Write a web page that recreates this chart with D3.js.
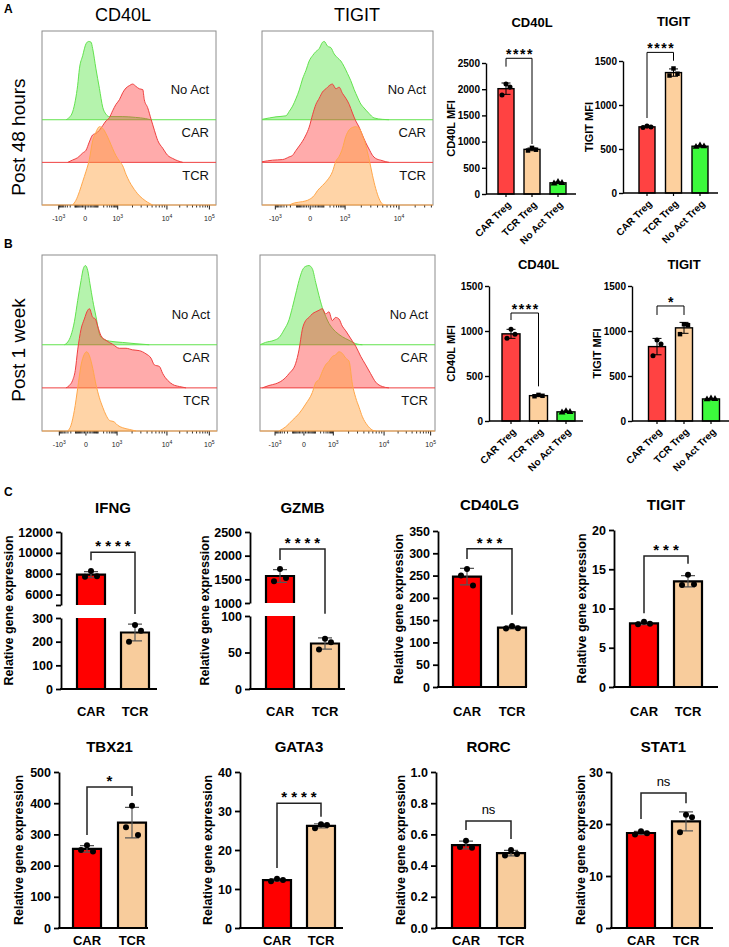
<!DOCTYPE html>
<html>
<head>
<meta charset="utf-8">
<script src="https://cdn.jsdelivr.net/npm/d3@7"></script>
<style>
  body { margin: 0; background: #fff; }
  svg { display: block; font-family: "Liberation Sans", Arial, Helvetica, sans-serif; }
</style>
</head>
<body>
<svg id="fig" width="729" height="947"></svg>
<script>
// ---------- flow histograms: [channel (0-1000 across plot), % of mode] ----------
const cd40l48NoAct = [[138,0],[157,3],[176,10],[192,25],[205,44],[215,65],[234,82],[253,97],[268,100],[282,99],[291,91],[310,65],[330,40],[349,16],[368,7],[387,4],[461,4],[537,3],[594,1.5],[623,0]];
const cd40l48Car = [[148,0],[176,3],[205,6],[234,12],[253,15.5],[272,26],[291,35],[310,37],[330,41],[349,47],[368,53],[387,57],[406,66],[425,74],[445,80],[464,89],[483,95],[502,98],[521,100],[540,97],[559,94],[579,93],[588,80],[607,70],[627,55],[646,41],[665,28],[694,18],[722,9],[751,5],[780,2],[809,0]];
const cd40l48Tcr = [[176,0],[195,6],[215,17],[234,30],[253,43],[272,58],[291,82],[310,93],[330,100],[349,98],[368,91],[387,82],[406,72],[425,63],[445,56],[464,50],[483,39],[502,30],[521,23],[540,17],[559,12],[579,8],[607,3.5],[636,0]];

const tigit48NoAct = [[0,0.5],[43,2.3],[82,3.7],[140,5],[159,10.6],[179,17.4],[198,26.6],[218,38],[237,52],[257,63],[276,75],[296,82],[315,87],[335,91],[354,99],[364,100],[383,94],[403,92],[422,84],[442,79],[461,75],[480,68],[500,59],[519,50],[539,38.5],[558,29],[578,20],[597,15],[626,8],[655,2.3],[704,0.5],[743,0]];
const tigit48Car = [[0,0.8],[62,2.8],[121,3.6],[159,7],[179,9],[198,15],[218,21],[237,27],[257,35],[276,45],[296,61],[315,74],[335,82],[354,90],[374,94],[393,98],[412,100],[432,94],[451,96],[471,88],[490,82],[510,74],[529,63],[548,53],[568,45],[587,35],[607,25],[626,17],[646,9],[665,5],[694,2.8],[724,0.8],[743,0]];
const tigit48Tcr = [[159,0],[189,2.6],[237,4.3],[276,7],[305,12],[325,18.5],[354,25],[383,32],[412,42.5],[432,56],[451,62],[471,72.5],[490,87.5],[510,96],[529,99],[548,100],[568,98],[587,89],[607,76],[626,59],[646,38],[665,21],[685,8],[704,1.3],[724,0]];

const cd40l1wNoAct = [[128,0],[147,3.4],[166,12],[185,29],[204,56],[223,81],[236,96],[248,100],[261,94],[274,77],[290,56],[309,35],[328,14],[347,7.6],[385,4.6],[461,2.9],[537,1.3],[613,0]];
const cd40l1wCar = [[137,0],[156,3],[175,9.5],[190,22],[204,48],[223,74],[242,87],[261,98],[271,100],[290,89],[305,87],[318,78],[337,66],[366,60],[404,55],[442,50],[480,50],[518,48],[556,47],[594,43],[623,37.5],[642,29],[671,27],[690,18],[718,9.5],[747,4.3],[785,1.7],[823,0]];
const cd40l1wTcr = [[147,0],[166,7.3],[185,26],[204,54],[223,83],[242,97],[255,100],[271,95],[290,79],[309,58],[328,42],[347,30],[366,20],[385,13.5],[413,11.4],[432,7.3],[461,4.1],[499,2],[537,0]];

const tigit1wNoAct = [[0,0],[32,3],[80,5.6],[109,9.1],[137,18.6],[166,31.6],[185,47],[204,64],[223,81],[242,94],[261,99],[280,100],[299,96],[318,79],[337,62],[356,47],[375,36],[394,27],[413,21],[432,16.5],[471,10],[509,5.6],[547,1.3],[585,0]];
const tigit1wCar = [[13,0],[51,3],[90,5.2],[128,9.5],[166,18],[204,31],[223,48],[242,74],[261,85],[280,89],[299,93.5],[318,96],[337,98],[356,100],[375,93.5],[394,96],[413,85],[432,89],[451,87],[470,78],[490,72],[509,65.5],[528,59],[547,52.6],[575,40],[604,29],[632,18],[661,7.3],[699,1.7],[737,0]];
const tigit1wTcr = [[109,0],[147,5.3],[185,13.6],[223,22],[261,34],[299,48.6],[318,61],[337,65],[356,75],[375,83.5],[394,88],[413,94],[432,96],[451,100],[470,98],[490,92],[509,88],[528,59],[547,42],[566,30],[585,18],[613,7.4],[642,1.2],[661,0]];

// biexponential axis: label text + channel where each major tick sits
const flowTickLabels = [["-10","3"],["0",""],["10","3"],["10","4"],["10","5"]];
const cd40l48Ticks = [96, 249, 435, 718, 962];
const tigit48Ticks = [78, 282, 486, 801];
const cd40l1wTicks = [99, 251, 429, 714, 956];
const tigit1wTicks = [86, 251, 419, 709, 975];
const laneNames = ["No Act", "CAR", "TCR"];

// ---------- MFI bar charts (replicates per group) ----------
const mfiGroups = ["CAR Treg", "TCR Treg", "No Act Treg"];
const cd40l48Reps = [[1890, 2100, 2040], [830, 880, 845], [200, 230, 210]];
const tigit48Reps = [[745, 760, 750], [1335, 1415, 1355], [525, 540, 530]];
const cd40l1wReps = [[920, 1020, 965], [275, 290, 280], [95, 110, 100]];
const tigit1wReps = [[725, 900, 855], [965, 1075, 1065], [240, 250, 245]];
const mfiTicks2500 = [0, 500, 1000, 1500, 2000, 2500];
const mfiTicks1500 = [0, 500, 1000, 1500];

// ---------- qPCR bar charts ----------
const geneGroups = ["CAR", "TCR"];
const ifngReps = [[7720, 8250, 7760], [200, 270, 246]];
const gzmbReps = [[1460, 1720, 1530], [54, 69, 64]];
const cd40lgReps = [[250, 265, 228], [131, 137, 132]];
const tigitReps = [[8.0, 8.3, 8.05], [13.0, 14.3, 13.1]];
const tbx21Reps = [[250, 265, 245], [323, 392, 298]];
const gata3Reps = [[12.0, 12.6, 12.3], [25.6, 26.6, 26.4]];
const rorcReps = [[0.52, 0.56, 0.515], [0.465, 0.50, 0.475]];
const stat1Reps = [[18.0, 18.6, 18.2], [18.4, 21.8, 21.3]];

const ifngTicksLow = [0, 100, 200, 300];
const ifngTicksHigh = [5000, 6000, 8000, 10000, 12000];
const gzmbTicksLow = [0, 50, 100];
const gzmbTicksHigh = [1000, 1500, 2000, 2500];
const cd40lgTicks = [0, 50, 100, 150, 200, 250, 300, 350];
const tigitTicks = [0, 5, 10, 15, 20];
const tbx21Ticks = [0, 100, 200, 300, 400, 500];
const gata3Ticks = [0, 10, 20, 30, 40];
const rorcTicks = [0, 0.2, 0.4, 0.6, 0.8, 1.0];
const stat1Ticks = [0, 10, 20, 30];

const svg = d3.select("#fig");

// ================= flow panels =================
const laneStyle = [
  {fill: "rgba(70,225,50,0.40)", stroke: "#62e34e"},
  {fill: "rgba(255,45,45,0.40)", stroke: "#ef4040"},
  {fill: "rgba(255,160,60,0.45)", stroke: "#ffa74a"}
];
const laneOffsets = [0.49, 0.245, 0];

function drawHistPanel(p) {
  var x = d3.scaleLinear().domain([0, 1000]).range([p.left, p.left + p.width]);
  var bottom = p.top + p.height;
  var g = svg.append("g");

  g.append("rect")
    .attr("x", p.left).attr("y", p.top)
    .attr("width", p.width).attr("height", p.height)
    .attr("fill", "none").attr("stroke", "#8c8c8c");

  // minor ticks: dense linear zone round zero, log spacing in the decades
  var minor = [];
  var lin = [10,20,30,40,50,60,70,80,90,100,200,300,400,500,600,700,800,900];
  lin.forEach(function(v) {
    var f = Math.asinh(v / 50) / Math.asinh(1000 / 50);
    minor.push(p.ticks[1] - f * (p.ticks[1] - p.ticks[0]));
    minor.push(p.ticks[1] + f * (p.ticks[2] - p.ticks[1]));
  });
  for (var i = 2; i < p.ticks.length; i++) {
    var span = (i + 1 < p.ticks.length ? p.ticks[i + 1] : 2 * p.ticks[i] - p.ticks[i - 1]) - p.ticks[i];
    for (var m = 2; m <= 9; m++) {
      var c = p.ticks[i] + Math.log10(m) * span;
      if (c < 1000) minor.push(c);
    }
  }
  g.selectAll(".minor").data(minor).enter().append("line")
    .attr("x1", d => x(d)).attr("x2", d => x(d))
    .attr("y1", bottom).attr("y2", bottom + 2.5)
    .attr("stroke", "#000").attr("stroke-width", 0.8);
  g.selectAll(".major").data(p.ticks).enter().append("line")
    .attr("x1", d => x(d)).attr("x2", d => x(d))
    .attr("y1", bottom).attr("y2", bottom + 4.5)
    .attr("stroke", "#000").attr("stroke-width", 0.9);
  var lab = g.selectAll(".tl").data(p.ticks).enter().append("text")
    .attr("x", d => x(d)).attr("y", bottom + 16)
    .attr("text-anchor", "middle").attr("font-size", 7).attr("fill", "#222");
  lab.append("tspan").text((d, i) => flowTickLabels[i][0]);
  lab.append("tspan").attr("dy", -3.5).attr("font-size", 5).text((d, i) => flowTickLabels[i][1]);

  p.series.forEach(function(s, i) {
    var base = bottom - laneOffsets[i] * p.height;
    var y = d3.scaleLinear().domain([0, 100]).range([base, base - 0.45 * p.height]);
    var area = d3.area().x(d => x(d[0])).y0(base).y1(d => y(d[1])).curve(d3.curveMonotoneX);
    var line = d3.line().x(d => x(d[0])).y(d => y(d[1])).curve(d3.curveMonotoneX);
    g.append("path").datum(s).attr("d", area).attr("fill", laneStyle[i].fill);
    g.append("line")
      .attr("x1", p.left).attr("x2", p.left + p.width)
      .attr("y1", base).attr("y2", base)
      .attr("stroke", laneStyle[i].stroke).attr("stroke-width", 1);
    g.append("path").datum(s).attr("d", line)
      .attr("fill", "none").attr("stroke", laneStyle[i].stroke).attr("stroke-width", 1);
    g.append("text")
      .attr("x", p.left + p.width - 7).attr("y", base - 0.172 * p.height)
      .attr("dy", "0.35em").attr("text-anchor", "end")
      .attr("font-size", 13).attr("fill", "#111")
      .text(laneNames[i]);
  });
}

drawHistPanel({left: 42, top: 31, width: 174, height: 174, ticks: cd40l48Ticks, series: [cd40l48NoAct, cd40l48Car, cd40l48Tcr]});
drawHistPanel({left: 262, top: 31, width: 171, height: 174, ticks: tigit48Ticks, series: [tigit48NoAct, tigit48Car, tigit48Tcr]});
drawHistPanel({left: 42, top: 255, width: 175, height: 176, ticks: cd40l1wTicks, series: [cd40l1wNoAct, cd40l1wCar, cd40l1wTcr]});
drawHistPanel({left: 260, top: 255, width: 175, height: 176, ticks: tigit1wTicks, series: [tigit1wNoAct, tigit1wCar, tigit1wTcr]});

// column and row headings
svg.append("text").attr("x", 123).attr("y", 21).attr("text-anchor", "middle").attr("font-size", 18).text("CD40L");
svg.append("text").attr("x", 357).attr("y", 21).attr("text-anchor", "middle").attr("font-size", 18).text("TIGIT");
svg.append("text").attr("transform", "translate(18,137) rotate(-90)").attr("dy", "0.35em")
  .attr("text-anchor", "middle").attr("font-size", 19).text("Post 48 hours");
svg.append("text").attr("transform", "translate(18,350) rotate(-90)").attr("dy", "0.35em")
  .attr("text-anchor", "middle").attr("font-size", 19).text("Post 1 week");

// panel letters
[["A", 13], ["B", 248], ["C", 496]].forEach(function(l) {
  svg.append("text").attr("x", 4).attr("y", l[1]).attr("font-size", 12).attr("font-weight", "bold").text(l[0]);
});

// ================= MFI bar charts =================
const mfiColors = ["#ff4242", "#fdd09e", "#3cfa3c"];
const mfiMarks = [d3.symbolCircle, d3.symbolSquare, d3.symbolTriangle];

function styleAxis(sel, size, width) {
  sel.select(".domain").attr("stroke", "#000").attr("stroke-width", width);
  sel.selectAll(".tick line").attr("stroke", "#000").attr("stroke-width", width);
  sel.selectAll(".tick text")
    .attr("font-family", "'Liberation Sans', Arial, sans-serif")
    .attr("font-weight", "bold").attr("font-size", size).attr("fill", "#000");
}

function drawMfiChart(c) {
  var g = svg.append("g");
  var y = d3.scaleLinear().domain([0, c.max]).range([c.y0, c.yTop]);
  var x = d3.scalePoint().domain(mfiGroups).range([c.x0 + c.first, c.x0 + c.first + 2 * c.step]);

  c.reps.forEach(function(r, i) {
    var m = d3.mean(r), sd = d3.deviation(r), cx = x(mfiGroups[i]);
    g.append("rect")
      .attr("x", cx - c.bw / 2).attr("y", y(m))
      .attr("width", c.bw).attr("height", c.y0 - y(m))
      .attr("fill", mfiColors[i]).attr("stroke", "#000").attr("stroke-width", 1.4);
    g.append("path")
      .attr("d", `M${cx},${y(m - sd)}V${y(m + sd)}M${cx - 4.5},${y(m + sd)}h9M${cx - 4.5},${y(m - sd)}h9`)
      .attr("stroke", "#000").attr("stroke-width", 1).attr("fill", "none");
    g.selectAll(null).data(r).enter().append("path")
      .attr("d", d3.symbol().type(mfiMarks[i]).size(20))
      .attr("transform", (d, j) => `translate(${cx + (j - 1) * 4},${y(d)})`)
      .attr("fill", "#000");
  });

  var ax = g.append("g").attr("transform", `translate(${c.x0},0)`)
    .call(d3.axisLeft(y).tickValues(c.ticks).tickSize(4).tickPadding(2).tickSizeOuter(0).tickFormat(d3.format("d")));
  styleAxis(ax, 10, 1.4);

  g.append("line").attr("x1", c.x0).attr("x2", c.x0 + c.len).attr("y1", c.y0).attr("y2", c.y0)
    .attr("stroke", "#000").attr("stroke-width", 1.4);
  mfiGroups.forEach(function(name) {
    var cx = x(name);
    g.append("line").attr("x1", cx).attr("x2", cx).attr("y1", c.y0).attr("y2", c.y0 + 3)
      .attr("stroke", "#000").attr("stroke-width", 1.2);
    g.append("text")
      .attr("transform", `translate(${cx + 3},${c.y0 + 9}) rotate(-45)`)
      .attr("text-anchor", "end").attr("dy", "0.35em")
      .attr("font-size", 10).attr("font-weight", "bold").text(name);
  });

  var mid = (x(mfiGroups[0]) + x(mfiGroups[2])) / 2;
  g.append("text").attr("x", mid).attr("y", c.titleY).attr("text-anchor", "middle")
    .attr("font-size", 13).attr("font-weight", "bold").text(c.title);
  g.append("text")
    .attr("transform", `translate(${c.x0 + c.labDx},${(c.y0 + c.yTop) / 2}) rotate(-90)`)
    .attr("dy", "0.35em").attr("text-anchor", "middle")
    .attr("font-size", 11).attr("font-weight", "bold").text(c.yLabel);

  // significance bracket between CAR and TCR
  var xl = x(mfiGroups[0]), xr = x(mfiGroups[1]);
  g.append("path")
    .attr("d", `M${xl},${y(c.sig[2])}V${y(c.sig[1])}H${xr}V${y(c.sig[3])}`)
    .attr("fill", "none").attr("stroke", "#000").attr("stroke-width", 1);
  g.append("text").attr("x", (xl + xr) / 2 + 1).attr("y", y(c.sig[1]) + 1)
    .attr("text-anchor", "middle").attr("font-size", 14).attr("font-weight", "bold")
    .attr("letter-spacing", 1.5).text(c.sig[0]);
}

drawMfiChart({title: "CD40L", yLabel: "CD40L MFI", reps: cd40l48Reps, ticks: mfiTicks2500, max: 2500,
  x0: 486, first: 20, step: 26, bw: 16, len: 90, y0: 194, yTop: 63, titleY: 27, labDx: -35,
  sig: ["****", 2590, 2430, 954]});
drawMfiChart({title: "TIGIT", yLabel: "TIGIT MFI", reps: tigit48Reps, ticks: mfiTicks1500, max: 1500,
  x0: 623, first: 24, step: 26.5, bw: 16, len: 95, y0: 193, yTop: 61, titleY: 26, labDx: -34,
  sig: ["****", 1598, 852, 1503]});
drawMfiChart({title: "CD40L", yLabel: "CD40L MFI", reps: cd40l1wReps, ticks: mfiTicks1500, max: 1500,
  x0: 489, first: 22, step: 27.5, bw: 18, len: 94, y0: 421, yTop: 286, titleY: 269, labDx: -38,
  sig: ["****", 1200, 1122, 385]});
drawMfiChart({title: "TIGIT", yLabel: "TIGIT MFI", reps: tigit1wReps, ticks: mfiTicks1500, max: 1500,
  x0: 632, first: 25, step: 27, bw: 17, len: 97, y0: 421, yTop: 286, titleY: 269, labDx: -35,
  sig: ["*", 1278, 1178, 1178]});

// ================= gene expression bar charts =================
const geneColors = ["#ff0000", "#f8cc9c"];

function drawGeneChart(c) {
  var g = svg.append("g");
  var x = d3.scalePoint().domain(geneGroups).range([c.x0 + c.first, c.x0 + c.first + c.step]);
  var segs = c.segments.map(s => Object.assign({}, s, {scale: d3.scaleLinear().domain(s.domain).range(s.range)}));
  var split = segs.length > 1 ? (segs[0].domain[1] + segs[1].domain[0]) / 2 : Infinity;
  var yOf = v => v > split ? segs[1].scale(v) : segs[0].scale(v);
  var y0 = segs[0].range[0];

  c.reps.forEach(function(r, i) {
    var m = d3.mean(r), sd = d3.deviation(r), cx = x(geneGroups[i]);
    var left = cx - c.bw / 2, right = cx + c.bw / 2;
    // one bar piece per axis segment the mean reaches
    segs.forEach(function(s, k) {
      if (k > 0 && m <= s.domain[0]) return;
      var top = Math.min(m, s.domain[1]);
      var yb = s.scale(s.domain[0]), yt = s.scale(top);
      g.append("rect").attr("x", left).attr("y", yt).attr("width", c.bw).attr("height", yb - yt)
        .attr("fill", geneColors[i]);
      var d = top < m ? `M${left},${yb}V${yt}M${right},${yt}V${yb}`
                      : `M${left},${yb}V${yt}H${right}V${yb}`;
      g.append("path").attr("d", d).attr("fill", "none").attr("stroke", "#000").attr("stroke-width", 2.2);
    });
    var yHi = yOf(m + sd), yLo = yOf(m - sd);
    g.append("path")
      .attr("d", `M${cx},${yLo}V${yHi}M${cx - 7},${yHi}h14M${cx - 7},${yLo}h14`)
      .attr("fill", "none").attr("stroke", "#555").attr("stroke-width", 1.2);
    g.selectAll(null).data(r).enter().append("circle")
      .attr("cx", (d, j) => cx + (j - 1) * 6).attr("cy", d => yOf(d))
      .attr("r", 3).attr("fill", "#000");
  });

  segs.forEach(function(s) {
    var ax = g.append("g").attr("transform", `translate(${c.x0},0)`)
      .call(d3.axisLeft(s.scale).tickValues(s.ticks).tickSize(5).tickSizeOuter(0)
        .tickFormat(v => (s.blank || []).includes(v) ? "" : (c.fmt ? d3.format(c.fmt)(v) : v)));
    styleAxis(ax, 12.5, 1.8);
  });

  g.append("line").attr("x1", c.x0 - 0.9).attr("x2", c.x0 + c.len).attr("y1", y0).attr("y2", y0)
    .attr("stroke", "#000").attr("stroke-width", 1.8);
  geneGroups.forEach(function(name) {
    g.append("text").attr("x", x(name)).attr("y", y0 + c.labY).attr("text-anchor", "middle")
      .attr("font-size", 13).attr("font-weight", "bold").text(name);
  });

  var xl = x(geneGroups[0]), xr = x(geneGroups[1]);
  g.append("text").attr("x", (xl + xr) / 2).attr("y", c.titleY).attr("text-anchor", "middle")
    .attr("font-size", 15).attr("font-weight", "bold").text(c.title);
  var top = segs[segs.length - 1].range[1];
  g.append("text")
    .attr("transform", `translate(${c.x0 + c.labDx},${(y0 + top) / 2}) rotate(-90)`)
    .attr("dy", "0.35em").attr("text-anchor", "middle")
    .attr("font-size", 12.5).attr("font-weight", "bold").text("Relative gene expression");

  // significance bracket
  var yTopB = yOf(c.sig[1]);
  g.append("path")
    .attr("d", `M${xl},${yOf(c.sig[2])}V${yTopB}H${xr}V${yOf(c.sig[3])}`)
    .attr("fill", "none").attr("stroke", "#222").attr("stroke-width", 1.5);
  var ns = c.sig[0] === "ns";
  g.append("text").attr("x", (xl + xr) / 2 + (ns ? 0 : 2)).attr("y", yTopB - (ns ? 7 : 1))
    .attr("text-anchor", "middle").attr("font-size", ns ? 13 : 15)
    .attr("font-weight", ns ? "normal" : "bold")
    .attr("letter-spacing", ns ? 0 : 4).text(c.sig[0]);
}

drawGeneChart({title: "IFNG", reps: ifngReps, x0: 61, first: 30, step: 44, bw: 28, len: 96, titleY: 513, labDx: -52, labY: 27,
  segments: [{domain: [0, 300], range: [689, 618], ticks: ifngTicksLow},
             {domain: [5000, 12000], range: [605, 532], ticks: ifngTicksHigh, blank: [5000]}],
  sig: ["****", 10064, 9290, 317]});
drawGeneChart({title: "GZMB", reps: gzmbReps, x0: 250, first: 30, step: 45, bw: 28, len: 95, titleY: 513, labDx: -45, labY: 27,
  segments: [{domain: [0, 100], range: [689, 616], ticks: gzmbTicksLow},
             {domain: [1000, 2500], range: [603, 532], ticks: gzmbTicksHigh}],
  sig: ["****", 2141, 1908, 103]});
drawGeneChart({title: "CD40LG", reps: cd40lgReps, x0: 438, first: 29, step: 45, bw: 28, len: 89, titleY: 510, labDx: -39, labY: 29,
  segments: [{domain: [0, 350], range: [687, 531], ticks: cd40lgTicks}],
  sig: ["***", 310, 287, 162]});
drawGeneChart({title: "TIGIT", reps: tigitReps, x0: 614, first: 30, step: 44, bw: 28, len: 104, titleY: 510, labDx: -32, labY: 29,
  segments: [{domain: [0, 20], range: [687, 530], ticks: tigitTicks}],
  sig: ["***", 16.7, 9.4, 15.7]});
drawGeneChart({title: "TBX21", reps: tbx21Reps, x0: 59, first: 28, step: 45, bw: 28, len: 89, titleY: 752, labDx: -40, labY: 17,
  segments: [{domain: [0, 500], range: [928, 772], ticks: tbx21Ticks}],
  sig: ["*", 452, 298, 423]});
drawGeneChart({title: "GATA3", reps: gata3Reps, x0: 240, first: 37, step: 44, bw: 28, len: 103, titleY: 752, labDx: -32, labY: 17,
  segments: [{domain: [0, 40], range: [928, 772], ticks: gata3Ticks}],
  sig: ["****", 32.0, 15.4, 28.5]});
drawGeneChart({title: "RORC", reps: rorcReps, x0: 436, first: 30, step: 45, bw: 28, len: 90, titleY: 752, labDx: -35, labY: 17, fmt: ".1f",
  segments: [{domain: [0, 1], range: [928, 772], ticks: rorcTicks}],
  sig: ["ns", 0.686, 0.628, 0.571]});
drawGeneChart({title: "STAT1", reps: stat1Reps, x0: 611, first: 30, step: 45, bw: 28, len: 102, titleY: 752, labDx: -30, labY: 17,
  segments: [{domain: [0, 30], range: [928, 772], ticks: stat1Ticks}],
  sig: ["ns", 25.96, 20.96, 24.0]});
</script>
</body>
</html>
